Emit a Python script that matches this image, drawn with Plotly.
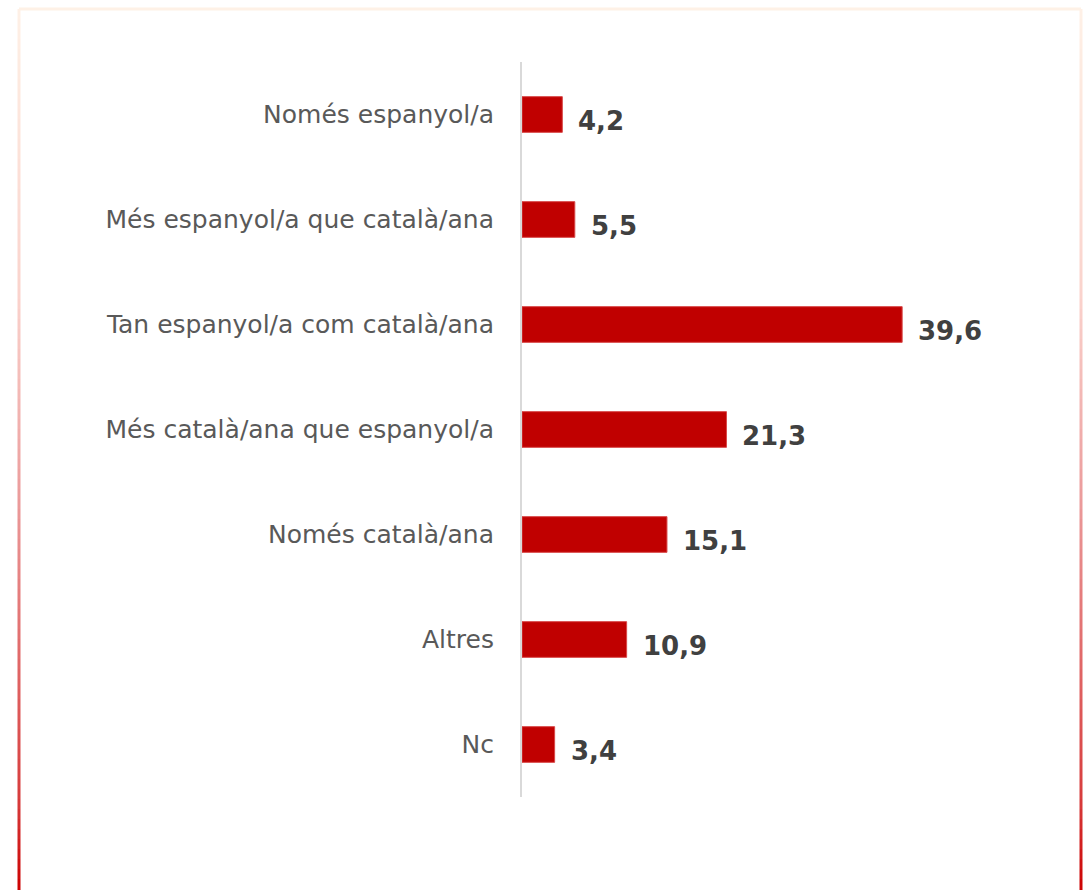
import plotly.graph_objects as go

# Data
categories = [
    "Només espanyol/a",
    "Més espanyol/a que català/ana",
    "Tan espanyol/a com català/ana",
    "Més català/ana que espanyol/a",
    "Només català/ana",
    "Altres",
    "Nc",
]
values = [4.2, 5.5, 39.6, 21.3, 15.1, 10.9, 3.4]
labels = ["4,2", "5,5", "39,6", "21,3", "15,1", "10,9", "3,4"]

# page geometry
W, H = 1086, 890
ML, MR, MT, MB = 522, 84, 62, 93
PW, PH = W - ML - MR, H - MT - MB


def px_x(p):
    return (p - ML) / PW


def px_y(p):
    return (H - MB - p) / PH


fig = go.Figure(go.Bar(
    x=values,
    y=categories,
    orientation="h",
    marker=dict(color="#c00000", line=dict(color="#d84848", width=1)),
    width=0.34,
    hoverinfo="x+y",
))

# value labels next to the bars
for c, v, t in zip(categories, values, labels):
    fig.add_annotation(
        x=v, y=c, text="<b>" + t + "</b>", showarrow=False,
        xanchor="left", xshift=14, yshift=-6,
        font=dict(family="DejaVu Sans", size=26, color="#404040"),
    )

# frame with a light-to-red gradient going down
stops = [(9, (254, 241, 230)), (300, (250, 210, 204)), (500, (235, 155, 155)),
         (800, (215, 60, 60)), (890, (204, 0, 0))]


def col_at(py):
    for (y0, c0), (y1, c1) in zip(stops, stops[1:]):
        if y0 <= py <= y1:
            f = (py - y0) / (y1 - y0)
            return "rgb(%d,%d,%d)" % tuple(round(a + (b - a) * f) for a, b in zip(c0, c1))
    return "rgb(%d,%d,%d)" % stops[-1][1]


fig.add_shape(type="line", xref="paper", yref="paper",
              x0=px_x(19), x1=px_x(1081), y0=px_y(9), y1=px_y(9),
              line=dict(color=col_at(9), width=3))
step = 10
for y0 in range(9, 890, step):
    y1 = min(y0 + step, 892)
    for xx in (19, 1081):
        fig.add_shape(type="line", xref="paper", yref="paper",
                      x0=px_x(xx), x1=px_x(xx), y0=px_y(y0), y1=px_y(y1),
                      line=dict(color=col_at(y0 + step / 2), width=3))

fig.update_layout(
    width=W, height=H,
    margin=dict(l=ML, r=MR, t=MT, b=MB),
    paper_bgcolor="white", plot_bgcolor="white",
    showlegend=False,
    font=dict(family="DejaVu Sans", size=25, color="#595959"),
    xaxis=dict(range=[0, 50], visible=False),
    yaxis=dict(autorange="reversed", showline=True, linecolor="#d9d9d9", linewidth=2,
               ticks="", showgrid=False, ticklabelstandoff=21,
               tickfont=dict(family="DejaVu Sans", size=25, color="#595959")),
)

# remove the default page margin so the figure sits at the window corner
fig.write_html("out.html", config={"displayModeBar": False},
               post_script="document.body.style.margin='0';document.body.style.overflow='hidden';")
